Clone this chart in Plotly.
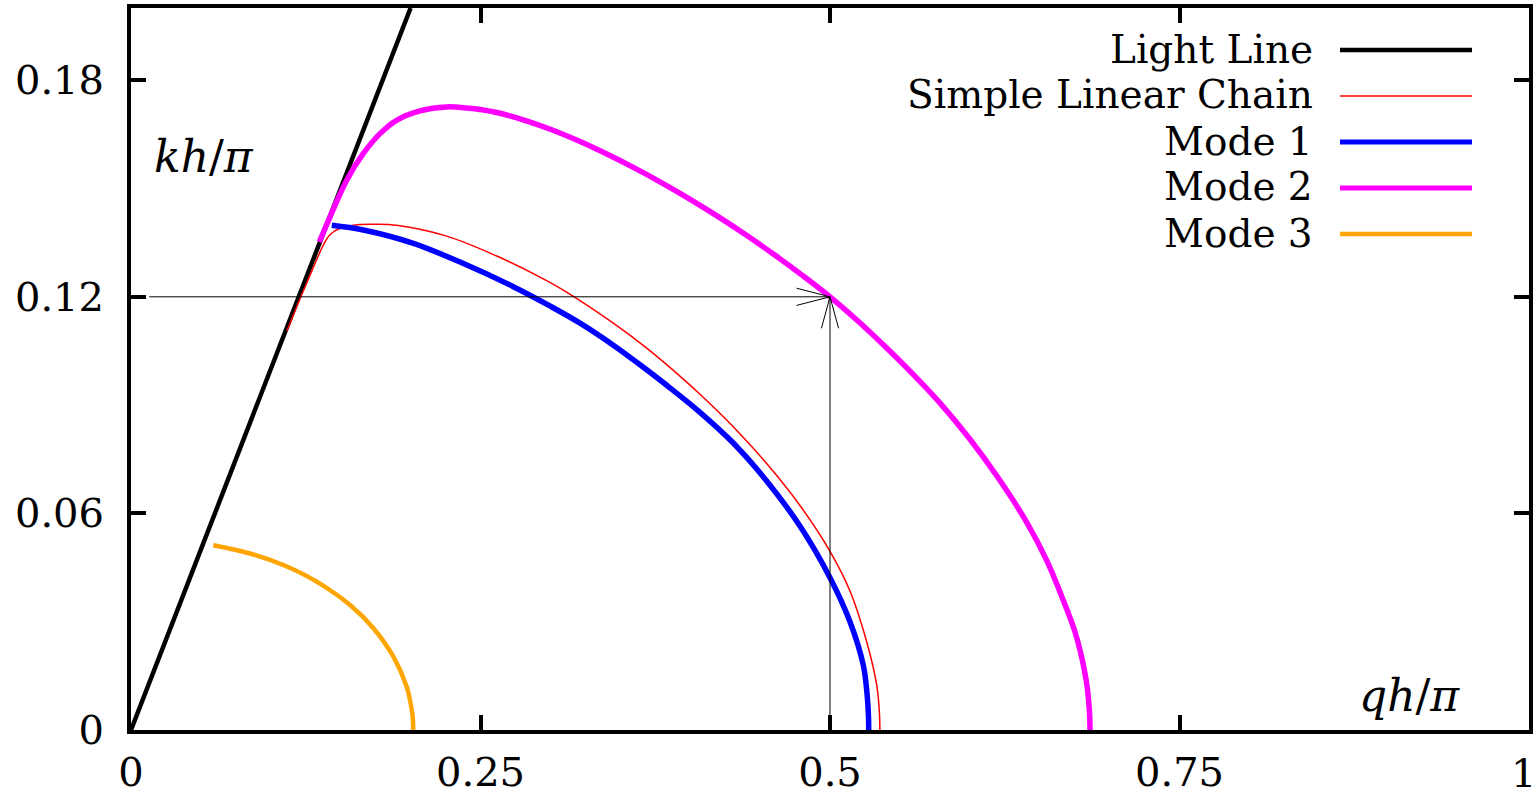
import plotly.graph_objects as go

# ---------------- data ----------------
light_x = [0.0, 0.2]
light_y = [0.0, 0.2]

chain_x = [0.1115, 0.1215, 0.1290, 0.1345, 0.1385, 0.1423, 0.1495, 0.1638, 0.1757, 0.1900,
           0.2258, 0.2616, 0.2973, 0.3116, 0.3450, 0.3689, 0.3832, 0.4070, 0.4308, 0.4547,
           0.4785, 0.5000, 0.5143, 0.5262, 0.5334, 0.5353, 0.5357]
chain_y = [0.1105, 0.1200, 0.1268, 0.1318, 0.1350, 0.1372, 0.1390, 0.1400, 0.1401, 0.1398,
           0.1368, 0.1313, 0.1245, 0.1213, 0.1127, 0.1058, 0.1012, 0.0930, 0.0840, 0.0738,
           0.0622, 0.0495, 0.0385, 0.0245, 0.0125, 0.0050, 0.0]

mode1_x = [0.1436, 0.1662, 0.2020, 0.2378, 0.2735, 0.3000, 0.3212, 0.3450, 0.3689, 0.3832,
           0.4070, 0.4308, 0.4547, 0.4785, 0.5000, 0.5143, 0.5238, 0.5265, 0.5275, 0.5277]
mode1_y = [0.1398, 0.1385, 0.1348, 0.1292, 0.1228, 0.1174, 0.1127, 0.1066, 0.0998, 0.0955,
           0.0880, 0.0795, 0.0690, 0.0565, 0.0422, 0.0300, 0.0180, 0.0100, 0.0040, 0.0]

mode2_x = [0.1347, 0.1423, 0.1543, 0.1662, 0.1781, 0.1900, 0.2067, 0.2258, 0.2400, 0.2600,
           0.2800, 0.3000, 0.3200, 0.3400, 0.3600, 0.3800, 0.4000, 0.4200, 0.4400, 0.4600,
           0.4800, 0.5000, 0.5200, 0.5400, 0.5600, 0.5800, 0.6000, 0.6200, 0.6400, 0.6550,
           0.6693, 0.6750, 0.6788, 0.6820, 0.6841, 0.6856, 0.6860]
mode2_y = [0.1352, 0.1421, 0.1523, 0.1597, 0.1652, 0.1689, 0.1715, 0.1726, 0.1723, 0.1712,
           0.1691, 0.1664, 0.1632, 0.1596, 0.1557, 0.1515, 0.1470, 0.1422, 0.1371, 0.1317,
           0.1260, 0.1200, 0.1133, 0.1060, 0.0983, 0.0900, 0.0806, 0.0700, 0.0580, 0.0470,
           0.0335, 0.0275, 0.0222, 0.0165, 0.0115, 0.0050, 0.0]

mode3_x = [0.0589, 0.0851, 0.1090, 0.1328, 0.1567, 0.1734, 0.1877, 0.1972, 0.1997, 0.2014, 0.2019]
mode3_y = [0.0512, 0.0489, 0.0457, 0.0411, 0.0346, 0.0282, 0.0203, 0.0120, 0.0080, 0.0040, 0.0]

x_ticks = [0, 0.25, 0.5, 0.75, 1]
x_tick_text = ["0", "0.25", "0.5", "0.75", "1"]
y_ticks = [0, 0.06, 0.12, 0.18]
y_tick_text = ["0", "0.06", "0.12", "0.18"]

# point marked by the two arrows
mark_q = 0.5
mark_k = 0.12
arrow_start_q = 0.012

series = [
    ("Light Line", light_x, light_y, "#000000", 4.5),
    ("Simple Linear Chain", chain_x, chain_y, "#ff0000", 1.5),
    ("Mode 1", mode1_x, mode1_y, "#0000ff", 5.5),
    ("Mode 2", mode2_x, mode2_y, "#ff00ff", 5.5),
    ("Mode 3", mode3_x, mode3_y, "#ffa500", 4.5),
]

FONT = "DejaVu Serif"

fig = go.Figure()
for name, xs, ys, col, w in series:
    fig.add_trace(go.Scatter(
        x=xs, y=ys, mode="lines", name=name,
        line=dict(color=col, width=w,
                  shape="linear" if name == "Light Line" else "spline", smoothing=1.0),
        showlegend=False, hoverinfo="skip"))

# arrows
anns = []
anns.append(dict(x=mark_q, y=mark_k, ax=arrow_start_q, ay=mark_k, xref="x", yref="y",
                 axref="x", ayref="y", text="", showarrow=True, arrowhead=0,
                 arrowwidth=1, arrowcolor="black", standoff=0, startstandoff=0))
anns.append(dict(x=mark_q, y=mark_k, ax=mark_q, ay=0, xref="x", yref="y",
                 axref="x", ayref="y", text="", showarrow=True, arrowhead=0,
                 arrowwidth=1, arrowcolor="black", standoff=0, startstandoff=0))
for dx, dy in [(-35, -9), (-35, 9), (-9, 33), (9, 33)]:
    anns.append(dict(x=mark_q, y=mark_k, ax=dx, ay=dy, xref="x", yref="y",
                     text="", showarrow=True, arrowhead=0, arrowwidth=1,
                     arrowcolor="black", standoff=0, startstandoff=0))

# axis titles (inside the frame)
anns.append(dict(x=0.015, y=0.159, xref="x", yref="y", text="<i>kh</i>/<i>π</i>",
                 showarrow=False, xanchor="left", yanchor="middle",
                 font=dict(family=FONT, size=44, color="black")))
anns.append(dict(x=0.952, y=0.0095, xref="x", yref="y", text="<i>qh</i>/<i>π</i>",
                 showarrow=False, xanchor="right", yanchor="middle",
                 font=dict(family=FONT, size=44, color="black")))

# legend (text on the left, sample on the right as in the original)
H = 799
plot_top, plot_bot = 8, 730
def py2paper(py):
    return (plot_bot - py) / (plot_bot - plot_top)
def px2paper(px):
    return (px - 131) / 1398

# last x tick label: kept inside the page edge, as in the original
anns.append(dict(x=x_ticks[-1], y=py2paper(773), xref="x", yref="paper",
                 text=x_tick_text[-1], showarrow=False, xanchor="right", yanchor="middle",
                 xshift=8, borderpad=0, font=dict(family=FONT, size=40, color="black")))

shapes = []
row_y = [50, 96, 142, 188, 234]
for (name, xs, ys, col, w), ry in zip(series, row_y):
    anns.append(dict(x=px2paper(1314), y=py2paper(ry - 1), xref="paper", yref="paper",
                     text=name, showarrow=False, xanchor="right", yanchor="middle",
                     borderpad=0,
                     font=dict(family=FONT, size=39, color="black")))
    shapes.append(dict(type="line", xref="paper", yref="paper",
                       x0=px2paper(1340), x1=px2paper(1472), y0=py2paper(ry), y1=py2paper(ry),
                       line=dict(color=col, width=min(w, 5))))

axis_common = dict(ticks="inside", ticklen=15, tickwidth=4, tickcolor="black",
                   showline=True, linewidth=4, linecolor="black", mirror="allticks",
                   showgrid=False, zeroline=False, ticklabeloverflow="allow",
                   automargin=False,
                   tickfont=dict(family=FONT, size=40, color="black"))

fig.update_layout(
    width=1538, height=799,
    margin=dict(l=131, r=9, t=plot_top, b=H - plot_bot, pad=0),
    paper_bgcolor="white", plot_bgcolor="white",
    xaxis=dict(range=[0, 1], tickvals=x_ticks, ticktext=x_tick_text[:-1] + [""],
               ticklabelstandoff=4, **axis_common),
    yaxis=dict(range=[0, 0.2], tickvals=y_ticks, ticktext=y_tick_text,
               ticklabelstandoff=15, **axis_common),
    annotations=anns, shapes=shapes, showlegend=False,
)

fig.write_html("out.html")
